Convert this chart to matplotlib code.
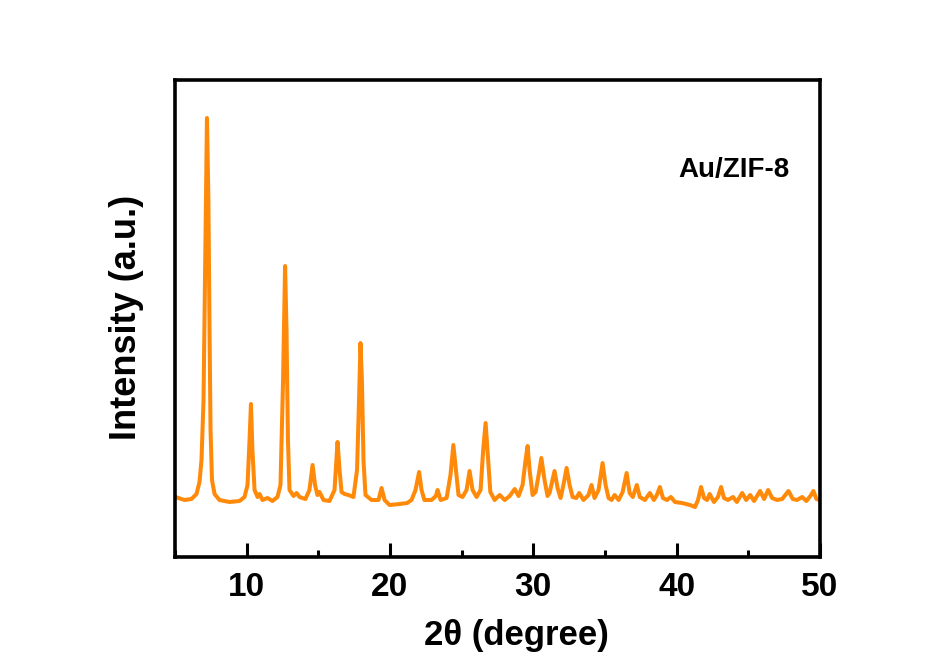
import matplotlib
matplotlib.use("Agg")
import matplotlib.pyplot as plt
from matplotlib.ticker import MultipleLocator

# Data (2theta in degrees, intensity in a.u.)
two_theta = [
    5.03, 5.66, 6.15, 6.50, 6.71, 6.85, 6.99, 7.09, 7.23, 7.33, 7.41, 7.48, 7.58, 7.76,
    8.10, 8.80, 9.50, 9.85, 10.06, 10.20, 10.30, 10.40, 10.55, 10.76, 10.90, 11.10,
    11.45, 11.80, 12.15, 12.36, 12.54, 12.68, 12.78, 12.88, 12.99, 13.27, 13.48, 13.69,
    14.10, 14.38, 14.60, 14.77, 14.94, 15.08, 15.36, 15.78, 16.13, 16.34, 16.48, 16.62,
    16.83, 17.10, 17.45, 17.70, 17.84, 17.94, 18.04, 18.15, 18.29, 18.71, 19.20, 19.41,
    19.62, 19.97, 20.67, 21.20, 21.50, 21.78, 22.03, 22.20, 22.40, 22.90, 23.20, 23.32,
    23.53, 23.95, 24.22, 24.42, 24.60, 24.78, 25.06, 25.34, 25.55, 25.76, 26.04, 26.32,
    26.50, 26.67, 26.85, 27.00, 27.30, 27.65, 28.00, 28.35, 28.70, 28.97, 29.25, 29.46,
    29.60, 29.74, 29.95, 30.16, 30.37, 30.56, 30.78, 30.99, 31.13, 31.34, 31.48, 31.69,
    31.90, 32.10, 32.32, 32.53, 32.74, 33.00, 33.20, 33.50, 33.85, 34.06, 34.27, 34.55,
    34.83, 35.04, 35.25, 35.46, 35.67, 35.95, 36.23, 36.51, 36.72, 36.94, 37.22, 37.43,
    37.78, 38.13, 38.41, 38.62, 38.83, 39.04, 39.32, 39.60, 39.88, 40.37, 40.93, 41.28,
    41.49, 41.70, 41.91, 42.12, 42.30, 42.60, 42.88, 43.10, 43.30, 43.58, 43.93, 44.20,
    44.57, 44.85, 45.13, 45.40, 45.82, 46.10, 46.38, 46.66, 47.00, 47.36, 47.80, 48.10,
    48.40, 48.75, 49.05, 49.33, 49.54, 49.75, 49.97,
]
intensity = [
    60, 57, 58, 63, 75, 97, 157, 277, 439, 357, 227, 127, 77, 63,
    57, 55, 56, 60, 72, 117, 153, 107, 67, 60, 63, 57,
    59, 56, 60, 72, 177, 291, 227, 117, 67, 61, 64, 60,
    58, 67, 92, 72, 62, 65, 57, 56, 67, 115, 87, 65,
    63, 62, 60, 87, 157, 214, 177, 97, 62, 57, 57, 69,
    57, 52, 53, 54, 57, 67, 85, 67, 57, 57, 61, 67,
    57, 59, 82, 112, 87, 62, 60, 67, 86, 67, 60, 67,
    107, 134, 97, 65, 57, 62, 57, 61, 68, 61, 72, 97,
    111, 87, 62, 65, 82, 99, 77, 61, 64, 77, 86, 69,
    59, 72, 89, 72, 60, 59, 64, 57, 62, 72, 59, 67,
    94, 72, 59, 57, 62, 57, 65, 84, 64, 60, 72, 60,
    57, 64, 57, 62, 70, 59, 57, 60, 55, 54, 52, 50,
    57, 70, 59, 57, 63, 55, 60, 70, 59, 57, 60, 55,
    64, 57, 62, 56, 66, 58, 67, 59, 57, 58, 66, 58,
    57, 60, 56, 61, 66, 58, 57,
]
x_ticks = [10, 20, 30, 40, 50]
x_label = "2\u03b8 (degree)"
y_label = "Intensity (a.u.)"
sample_label = "Au/ZIF-8"

plt.rcParams['font.family'] = ['Liberation Sans', 'DejaVu Sans']
plt.rcParams['font.weight'] = 'bold'

fig = plt.figure(figsize=(9.4, 6.61), dpi=100)
ax = fig.add_axes([175/940, 1 - 557/661, 645/940, 477/661])

ax.plot(two_theta, intensity, color='#FF8A0A', lw=2.9,
        solid_joinstyle='round', solid_capstyle='round')

ax.set_xlim(5, 50)
ax.set_ylim(0, 477)
ax.set_xticks(x_ticks)
ax.set_xticklabels([str(t) for t in x_ticks])
ax.xaxis.set_minor_locator(MultipleLocator(5))
ax.set_yticks([])
ax.tick_params(axis='x', which='major', direction='in', length=10, width=2.2,
               labelsize=24, pad=11)
ax.tick_params(axis='x', which='minor', direction='in', length=5, width=2.2)
for lab in ax.get_xticklabels():
    lab.set_fontweight('bold')
for s in ax.spines.values():
    s.set_linewidth(2.6)
    s.set_color('black')

fig.text(516/940, 1 - 636/661, x_label, ha='center', va='center',
         fontsize=25, fontweight='bold')
fig.text(127/940, 1 - 317/661, y_label, ha='center', va='center',
         rotation=90, fontsize=26, fontweight='bold')
ax.text((734 - 175)/645, (557 - 170)/477, sample_label, transform=ax.transAxes,
        ha='center', va='center', fontsize=20, fontweight='bold')

fig.savefig('out.png', dpi=100, facecolor='white')
